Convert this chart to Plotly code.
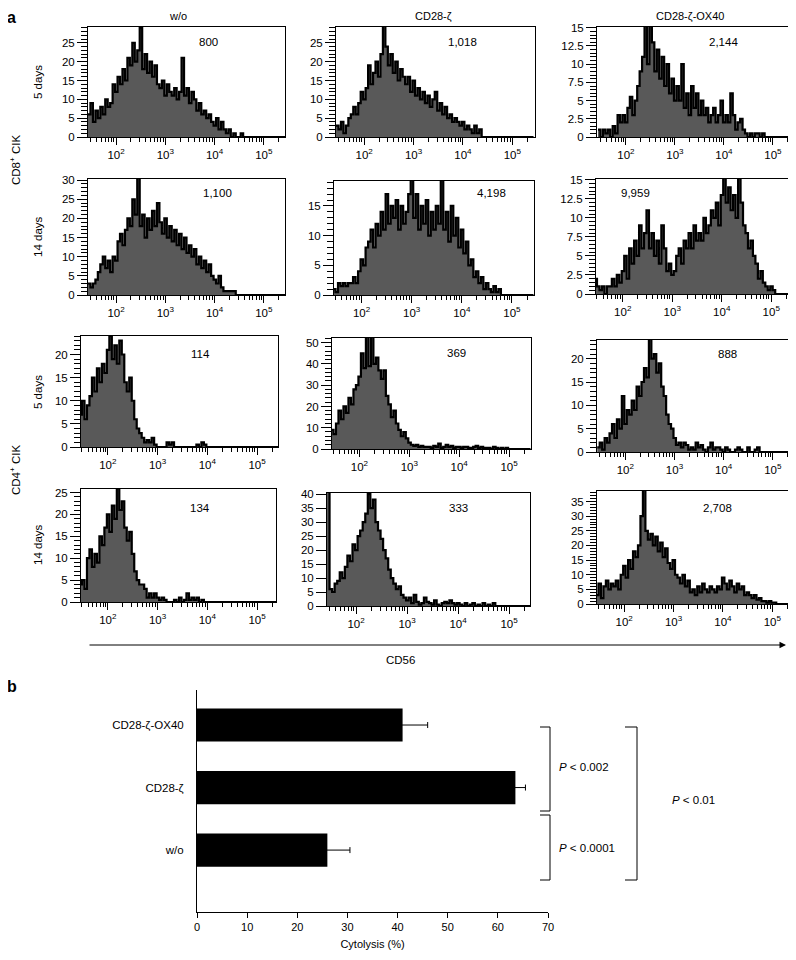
import numpy as np
import plotly.graph_objects as go

# The page body has an 8 px margin, so the figure is sized to fit the 796x960 window
PAGE_OFF = 8
W, H = 796 - PAGE_OFF, 960 - PAGE_OFF

# ---------------- Panel a: CD56 histograms (counts per log bin) ----------------
BIN_LO = 1.43      # log10 of first bin edge
BIN_STEP = 0.05    # bin width in decades
N_BINS = 80

col_titles = ["w/o", "CD28-ζ", "CD28-ζ-OX40"]

cd8_d5_wo = [6, 9, 4, 7, 5, 8, 6, 10, 8, 9, 14, 12, 16, 14, 18, 15, 21, 19, 25, 20,
             23, 29, 18, 22, 17, 20, 16, 19, 14, 13, 15, 11, 14, 12, 11, 13, 10, 12, 21, 11,
             13, 9, 12, 10, 7, 9, 6, 7, 5, 6, 4, 3, 5, 2, 4, 2, 1, 2, 0, 1,
             0, 0, 1, 0]
cd8_d5_cd28 = [3, 2, 4, 1, 3, 5, 6, 8, 6, 9, 12, 10, 13, 19, 14, 17, 20, 16, 22, 30,
               24, 19, 22, 17, 20, 15, 18, 16, 14, 16, 12, 15, 11, 13, 10, 12, 9, 11, 8, 10,
               12, 7, 9, 6, 8, 5, 6, 4, 5, 4, 3, 4, 2, 3, 2, 1, 3, 1, 2]
cd8_d5_ox40 = [1, 0, 1, 0.5, 1, 0, 1.5, 0.5, 3, 2, 3, 2, 4, 5.5, 3, 5, 7, 9, 11, 16,
               10, 16, 13, 9, 12, 8, 11, 7, 10, 6, 8, 5, 7, 5, 10, 4, 6, 3, 7, 4,
               6, 3, 5, 3, 4, 2, 3, 4, 2, 3, 5, 2, 3, 2, 6, 3, 1, 2, 2.5, 1,
               0.5, 0, 0.5, 0, 0.5, 0.5, 0, 0.5]
cd8_d14_wo = [3, 2, 3, 4, 6, 8, 10, 7, 9, 6, 10, 9, 14, 16, 13, 17, 20, 18, 25, 21,
              31, 18, 21, 15, 20, 17, 22, 18, 24, 19, 16, 20, 15, 18, 14, 17, 13, 16, 12, 15,
              11, 13, 10, 12, 8, 10, 7, 9, 6, 8, 5, 4, 3, 5, 2, 1, 1, 1, 1, 1]
cd8_d14_cd28 = [1, 0.5, 2, 1.5, 2, 1.5, 2, 2, 3, 2, 4, 6, 5, 8, 9, 11, 8, 12, 10, 14,
                11, 17, 12, 15, 13, 16, 11, 15, 12, 14, 17, 20, 13, 17, 11, 15, 12, 16, 10, 14,
                11, 15, 12, 20, 11, 14, 9, 15, 10, 13, 8, 11, 7, 9, 5, 6, 3, 4, 2, 3,
                1, 2, 1, 0.5, 1.5, 0.5, 1]
cd8_d14_ox40 = [2, 1, 0.5, 1, 0, 1, 1, 2, 1, 2.5, 1.5, 3, 5, 2, 6, 4, 7, 5, 9, 6,
                8, 11, 6, 8, 5, 7, 4, 9, 6, 3, 4, 2.5, 3, 5, 6, 4, 7, 6, 8, 6,
                9, 7, 8, 7, 10, 8, 9, 11, 10, 12, 9, 13, 16, 12, 14, 11, 13, 10, 16, 12,
                9, 8, 6, 7, 5, 4, 2, 3, 1.5, 1, 0.5, 1, 0.5]
cd4_d5_wo = [7, 10, 6, 9, 11, 15, 12, 17, 14, 18, 16, 21, 24, 19, 22, 18, 23, 20, 14, 12,
             15, 10, 6, 4, 3, 2, 1, 1.5, 1, 2, 0.5, 0, 0, 0, 0, 1, 0.5, 1, 0, 0,
             0, 0, 0, 0, 0, 0, 0, 0.5, 0, 1, 0.5]
cd4_d5_cd28 = [9, 7, 12, 18, 14, 20, 17, 24, 21, 28, 30, 34, 45, 38, 55, 39, 55, 40, 43, 37,
               33, 37, 25, 21, 15, 18, 12, 9, 6, 8, 5, 3, 2, 1.5, 2, 1, 1.5, 1, 1, 1,
               0.5, 1.5, 1, 2.5, 0.5, 1, 2, 1, 1.5, 0.5, 1, 1, 0.5, 1, 1, 0.5, 0.5, 1, 1.5, 0.5,
               1, 0.5, 0.5, 0.5, 0, 1, 0.5, 0, 0.5, 0, 0.5]
cd4_d5_ox40 = [1, 2, 0.5, 3, 2, 4, 6, 3, 7, 5, 12, 6, 9, 8, 11, 9, 14, 12, 15, 18,
               16, 25, 20, 21, 17, 19, 14, 12, 8, 6, 5, 3, 1.5, 2, 1, 2, 1.5, 0.5, 1, 0.5,
               2, 1, 1.5, 0.5, 0, 1, 2, 0.5, 1, 1, 0.5, 0, 1, 0.5, 0, 0, 0.5, 1, 0.5, 0,
               0, 1, 0, 0, 0.5, 1]
cd4_d14_wo = [4, 5, 3, 10, 12, 8, 11, 9, 15, 13, 17, 20, 16, 22, 19, 26, 21, 23, 17, 14,
              16, 11, 7, 5, 4, 4, 3, 1, 2, 1, 2, 1, 0.5, 1, 0.5, 0, 0, 0, 0.5, 0,
              1, 0, 0.5, 2, 0.5, 1, 0.5, 1, 0, 0.5]
cd4_d14_cd28 = [42, 6, 5, 8, 9, 12, 10, 14, 18, 16, 22, 20, 25, 27, 30, 33, 40, 35, 38, 30,
                27, 24, 20, 17, 13, 10, 8, 6, 7, 4, 3, 2, 3, 1, 4, 1.5, 0.5, 1, 3, 1.5,
                1, 0.5, 2, 0.5, 0, 1, 1.5, 1, 2, 1, 0.5, 1, 0.5, 0, 1, 0, 0.5, 1, 0, 0.5,
                0, 1, 0, 0.5, 0, 1]
cd4_d14_ox40 = [3, 7, 2, 6, 8, 5, 7, 6, 8, 5, 10, 13, 9, 15, 12, 18, 16, 20, 30, 40,
                25, 22, 24, 20, 23, 18, 21, 16, 19, 14, 12, 15, 10, 9, 7, 10, 6, 8, 4, 5,
                3, 6, 4, 7, 5, 4, 6, 5, 4, 6, 5, 9, 7, 5, 8, 6, 4, 7, 5, 6,
                3, 4, 3, 2, 3, 1.5, 2, 1, 1, 0.5, 1, 0.5, 0.5]

mfi_labels = ["800", "1,018", "2,144", "1,100", "4,198", "9,959",
              "114", "369", "888", "134", "333", "2,708"]

x_tickvals = [1e2, 1e3, 1e4, 1e5]
x_ticktext = ["10<sup>2</sup>", "10<sup>3</sup>", "10<sup>4</sup>", "10<sup>5</sup>"]

# ---------------- Panel b: cytolysis ----------------
cyto_labels = ["w/o", "CD28-ζ", "CD28-ζ-OX40"]
cyto_values = [26, 63.5, 41]
cyto_errors = [4.5, 2, 5]
cyto_ticks = [0, 10, 20, 30, 40, 50, 60, 70]

# ---------------- layout helpers (page pixel -> paper) ----------------
def px(x):
    return (x - PAGE_OFF) / W

def py(y):
    return 1 - (y - PAGE_OFF) / H

FONT = "Liberation Sans, Arial, Helvetica, sans-serif"

def note(text, x, y, size=11.5, angle=0, xanchor="center"):
    return dict(text=text, x=px(x), y=py(y), xref="paper", yref="paper",
                xanchor=xanchor, yanchor="middle", showarrow=False,
                textangle=angle, font=dict(size=size))

hists = [cd8_d5_wo, cd8_d5_cd28, cd8_d5_ox40,
         cd8_d14_wo, cd8_d14_cd28, cd8_d14_ox40,
         cd4_d5_wo, cd4_d5_cd28, cd4_d5_ox40,
         cd4_d14_wo, cd4_d14_cd28, cd4_d14_ox40]

boxes = [(88, 285, 27, 137), (336, 535, 27, 137), (597, 795, 27, 137),
         (88, 285, 179, 295), (334, 534, 181, 295), (596, 795, 179, 294),
         (81, 278, 336, 447), (332, 531, 338, 449), (597, 795, 340, 452),
         (81, 276, 489, 602), (327, 530, 493, 606), (597, 795, 491, 604)]
xranges = [(1.43, 5.43), (1.43, 5.46), (1.41, 5.45),
           (1.43, 5.43), (1.45, 5.44), (1.46, 5.48),
           (1.46, 5.42), (1.45, 5.44), (1.425, 5.45),
           (1.46, 5.38), (1.43, 5.41), (1.45, 5.46)]
ytops = [29.2, 29.2, 15.1, 30.3, 19.2, 15.1, 24, 52.2, 24, 25.8, 40.4, 38.6]
ydticks = [5, 5, 2.5, 5, 5, 2.5, 5, 10, 5, 5, 5, 5]
yminor = [1, 1, 0.5, 1, 1, 0.5, 1, 2, 1, 1, None, 1]
label_pos = [(208, 42), (462, 42), (723, 42),
             (217, 193), (492, 193), (635, 193),
             (200, 354), (457, 353), (727, 354),
             (200, 508), (458, 508), (717, 508)]

minor_x = [m * 10 ** k for k in range(1, 6) for m in range(2, 10)]

edges = BIN_LO + BIN_STEP * np.arange(N_BINS + 1)
x_edges = 10 ** edges

fig = go.Figure()
layout = dict(width=W, height=H, margin=dict(l=0, r=0, t=0, b=0, autoexpand=False),
              paper_bgcolor="white", plot_bgcolor="white", showlegend=False,
              font=dict(family=FONT, size=11, color="black"))
annotations = []
shapes = []

for i, vals in enumerate(hists):
    n = i + 1
    v = list(vals) + [0] * (N_BINS - len(vals))
    yv = v + [v[-1]]
    fig.add_trace(go.Scatter(
        x=x_edges, y=yv, mode="lines",
        line=dict(shape="hv", color="black", width=2.2),
        fill="tozeroy", fillcolor="#595959",
        xaxis=f"x{n}", yaxis=f"y{n}", hoverinfo="skip"))
    x0, x1, y0, y1 = boxes[i]
    xa = dict(type="log", range=list(xranges[i]), domain=[px(x0), px(x1)],
              anchor=f"y{n}", showline=True, mirror=True, linecolor="black",
              linewidth=1, ticks="outside", ticklen=7, tickwidth=1, tickcolor="black",
              tickvals=x_tickvals, ticktext=x_ticktext, showgrid=False, zeroline=False,
              tickfont=dict(size=11.5), automargin=False,
              minor=dict(tickvals=minor_x, ticks="outside", ticklen=4,
                         tickcolor="black", tickwidth=1, showgrid=False))
    ya = dict(range=[0, ytops[i]], domain=[py(y1), py(y0)], anchor=f"x{n}",
              showline=True, mirror=True, linecolor="black", linewidth=1,
              ticks="outside", ticklen=10, tickwidth=1, tickcolor="black",
              tick0=0, dtick=ydticks[i], showgrid=False, zeroline=False,
              tickfont=dict(size=11.5), automargin=False)
    if yminor[i] is not None:
        ya["minor"] = dict(tick0=0, dtick=yminor[i], ticks="outside", ticklen=6,
                           tickcolor="black", tickwidth=1, showgrid=False)
    layout[f"xaxis{n}"] = xa
    layout[f"yaxis{n}"] = ya
    lx, ly = label_pos[i]
    annotations.append(note(mfi_labels[i], lx, ly))

# column titles
for t, cx in zip(col_titles, [178, 433, 690]):
    annotations.append(note(t, cx, 16, size=11))
# panel letters
annotations.append(note("<b>a</b>", 12, 18, size=16))
annotations.append(note("<b>b</b>", 12, 686, size=16))
# row labels
for t, cy in [("5 days", 82), ("14 days", 237), ("5 days", 392), ("14 days", 545)]:
    annotations.append(note(t, 38, cy, angle=-90))
for t, cy in [("CD8<sup>+</sup> CIK", 160), ("CD4<sup>+</sup> CIK", 470)]:
    annotations.append(note(t, 15, cy, angle=-90))
# CD56 arrow
annotations.append(dict(text="", x=px(786), y=py(645), xref="paper", yref="paper",
                        ax=-698, ay=0, showarrow=True, arrowhead=2, arrowsize=1.3,
                        arrowwidth=1, arrowcolor="black"))
annotations.append(note("CD56", 400, 660))

# ---------------- Panel b bar chart ----------------
fig.add_trace(go.Bar(
    x=cyto_values, y=cyto_labels, orientation="h", marker=dict(color="black", line=dict(width=0)),
    width=0.53,
    error_x=dict(type="data", array=cyto_errors, color="black", thickness=1, width=3),
    xaxis="x13", yaxis="y13", hoverinfo="skip"))
layout["xaxis13"] = dict(domain=[px(197), px(548)], range=[0, 70], anchor="y13",
                         tickvals=cyto_ticks, ticks="outside", ticklen=5,
                         tickcolor="black", showline=True, linecolor="black", linewidth=1,
                         showgrid=False, zeroline=False, tickfont=dict(size=11),
                         automargin=False,
                         title=dict(text="Cytolysis (%)", font=dict(size=11), standoff=8))
layout["yaxis13"] = dict(domain=[py(912), py(690)], range=[-0.99, 2.56], anchor="x13",
                         type="category", showline=True, linecolor="black", linewidth=1,
                         ticks="", showgrid=False, zeroline=False, automargin=False,
                         tickfont=dict(size=11.5), ticklabelstandoff=10)

# significance brackets
def bracket(xv, ytop, ybot, arm):
    return [dict(type="line", xref="paper", yref="paper", x0=px(xv), x1=px(xv),
                 y0=py(ytop), y1=py(ybot), line=dict(color="black", width=1)),
            dict(type="line", xref="paper", yref="paper", x0=px(xv - arm), x1=px(xv),
                 y0=py(ytop), y1=py(ytop), line=dict(color="black", width=1)),
            dict(type="line", xref="paper", yref="paper", x0=px(xv - arm), x1=px(xv),
                 y0=py(ybot), y1=py(ybot), line=dict(color="black", width=1))]

shapes += bracket(550, 727, 811, 10)
shapes += bracket(550, 815, 880, 10)
shapes += bracket(637, 727, 880, 12)
for t, x, y in [("<i>P</i> < 0.002", 557, 767), ("<i>P</i> < 0.0001", 557, 848),
                ("<i>P</i> < 0.01", 670, 800)]:
    annotations.append(note(t, x, y, xanchor="left"))

layout["annotations"] = annotations
layout["shapes"] = shapes
fig.update_layout(**layout)
fig.write_html("out.html")
